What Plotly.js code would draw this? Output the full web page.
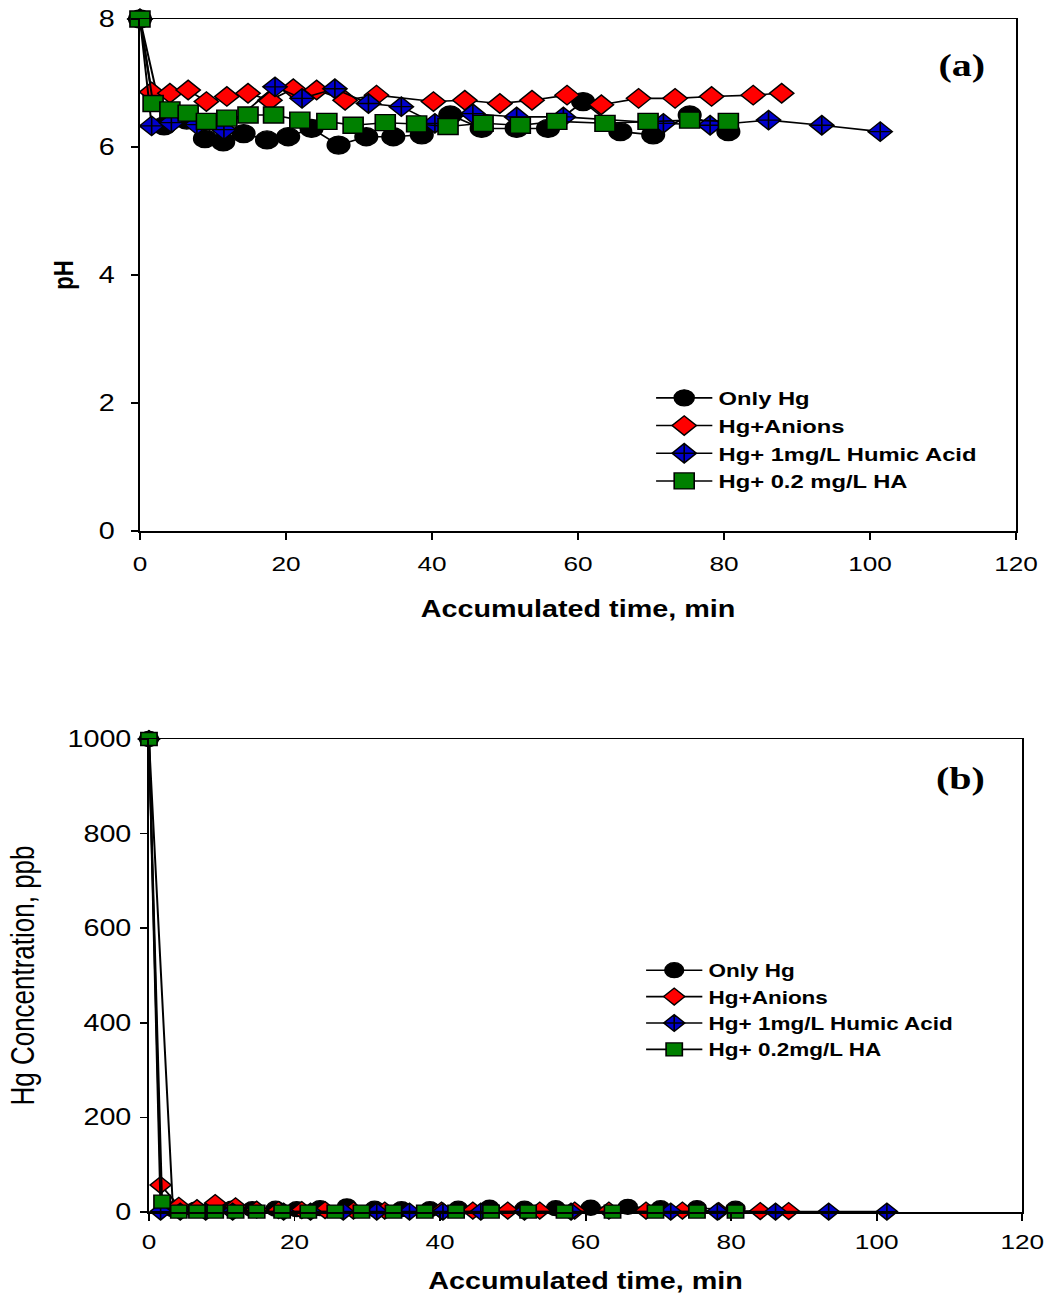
<!DOCTYPE html>
<html>
<head>
<meta charset="utf-8">
<script src="https://cdn.plot.ly/plotly-3.0.1.min.js"></script>
<style>
html,body{margin:0;padding:0;background:#fff;overflow:hidden;}
/* the figure is laid out narrow and widened horizontally */
#chart{width:845px;height:1300px;transform:scaleX(1.2497);transform-origin:0 0;}
</style>
</head>
<body>
<div id="chart"></div>
<script>
// Sampling times (min) of each run
const tOnlyHg  = [0, 3.3, 6.4, 8.9, 11.4, 14.2, 17.4, 20.3, 23.5, 27.2, 31.0, 34.7, 38.6, 42.5, 46.8, 51.6, 55.9, 60.7, 65.8, 70.3, 75.3, 80.6];
const tAnions  = [0, 1.6, 4.1, 6.6, 9.1, 11.9, 14.8, 17.8, 21.0, 24.2, 28.1, 32.4, 40.2, 44.5, 49.3, 53.7, 58.5, 63.2, 68.3, 73.3, 78.3, 84.0, 87.9];
const tHumic1  = [0, 1.6, 4.3, 7.8, 11.5, 18.5, 22.2, 26.7, 31.3, 35.8, 40.4, 45.6, 51.6, 58.0, 71.7, 78.1, 86.1, 93.4, 101.4];
const tHA02    = [0, 1.8, 4.1, 6.6, 9.1, 11.9, 14.8, 18.3, 21.9, 25.6, 29.2, 33.6, 37.9, 42.2, 47.0, 52.1, 57.1, 63.7, 69.6, 75.3, 80.6];

// (a) pH
const phOnlyHg = [8.0, 6.33, 6.42, 6.13, 6.08, 6.21, 6.11, 6.16, 6.29, 6.03, 6.16, 6.16, 6.19, 6.50, 6.29, 6.29, 6.29, 6.71, 6.24, 6.19, 6.50, 6.24];
const phAnions = [8.0, 6.86, 6.84, 6.89, 6.71, 6.79, 6.84, 6.73, 6.91, 6.89, 6.73, 6.81, 6.71, 6.73, 6.68, 6.73, 6.81, 6.66, 6.76, 6.76, 6.79, 6.81, 6.84];
const phHumic1 = [8.0, 6.33, 6.38, 6.35, 6.27, 6.94, 6.76, 6.91, 6.68, 6.63, 6.37, 6.52, 6.47, 6.47, 6.37, 6.34, 6.42, 6.34, 6.24];
const phHA02   = [8.0, 6.68, 6.58, 6.53, 6.40, 6.45, 6.50, 6.50, 6.42, 6.40, 6.34, 6.38, 6.36, 6.32, 6.37, 6.34, 6.40, 6.37, 6.40, 6.42, 6.40];

// (b) Hg concentration, ppb
const hgOnlyHg = [1000, 6, 5, 6, 7, 6, 7, 6, 8, 12, 7, 6, 6, 7, 9, 7, 8, 9, 11, 8, 8, 7];
const hgAnions = [1000, 57, 13, 8, 19, 12, 5, 4, 4, 4, 3, 3, 3, 3, 3, 3, 3, 3, 3, 3, 2, 2, 2];
const hgHumic1 = [1000, 1, 1, 1, 1, 1, 1, 1, 1, 1, 1, 1, 1, 1, 1, 1, 1, 1, 1];
const hgHA02   = [1000, 22, 1, 1, 1, 1, 1, 1, 1, 1, 1, 1, 1, 1, 1, 1, 1, 1, 1, 1, 1];

const namesA = ['Only Hg', 'Hg+Anions', 'Hg+ 1mg/L Humic Acid', 'Hg+ 0.2 mg/L HA'];
const namesB = ['Only Hg', 'Hg+Anions', 'Hg+ 1mg/L Humic Acid', 'Hg+ 0.2mg/L HA'];
const xTicks = [0, 20, 40, 60, 80, 100, 120];

const styles = [
  {symbol: 'circle',        color: '#000000', sizeA: 18, sizeB: 15},
  {symbol: 'diamond',       color: '#ff0000', sizeA: 15, sizeB: 13},
  {symbol: 'diamond-cross', color: '#0000cc', sizeA: 15, sizeB: 13},
  {symbol: 'square',        color: '#008000', sizeA: 16, sizeB: 13}
];

function series(x, y, i, name, xa, ya, size, legend) {
  const s = styles[i];
  return {
    type: 'scatter', mode: 'lines+markers', x: x, y: y, name: name,
    xaxis: xa, yaxis: ya, legend: legend,
    line: {color: '#000000', width: 1.6},
    marker: {symbol: s.symbol, size: size, color: s.color, line: {color: '#000000', width: 1.3}},
    cliponaxis: false
  };
}

const times = [tOnlyHg, tAnions, tHumic1, tHA02];
const phs = [phOnlyHg, phAnions, phHumic1, phHA02];
const hgs = [hgOnlyHg, hgAnions, hgHumic1, hgHA02];

const data = [];
for (let i = 0; i < 4; i++) data.push(series(times[i], phs[i], i, namesA[i], 'x', 'y', styles[i].sizeA, 'legend'));
for (let i = 0; i < 4; i++) data.push(series(times[i], hgs[i], i, namesB[i], 'x2', 'y2', styles[i].sizeB, 'legend2'));

const W = 845, H = 1300;
const FAM = 'Liberation Sans, Arial, sans-serif';
const xTickFont = {family: FAM, size: 21, color: '#000'};
const yTickFont = {family: FAM, size: 23, color: '#000'};
const boldTitle = {family: FAM, size: 23, color: '#000', weight: 'bold'};

function xAxis(domain, anchor, labelGap, titleGap) {
  return {
    domain: domain, anchor: anchor, range: [0, 120], tickvals: xTicks, ticktext: xTicks.map(String),
    showline: true, linecolor: '#000', linewidth: 1.5, mirror: true,
    ticks: 'outside', ticklen: 7, tickwidth: 1.5, tickcolor: '#000',
    ticklabelstandoff: labelGap, ticklabeloverflow: 'allow',
    showgrid: false, zeroline: false, tickfont: xTickFont,
    title: {text: 'Accumulated time, min', font: boldTitle, standoff: titleGap}
  };
}

const layout = {
  width: W, height: H,
  margin: {l: 0, r: 0, t: 0, b: 0},
  paper_bgcolor: '#fff', plot_bgcolor: '#fff',
  font: {family: FAM, color: '#000'},
  xaxis: xAxis([112 / W, 813 / W], 'y', 6, 27),
  yaxis: {
    domain: [1 - 531 / H, 1 - 19 / H], anchor: 'x', range: [0, 8], dtick: 2,
    showline: true, linecolor: '#000', linewidth: 1.5, mirror: true,
    ticks: 'outside', ticklen: 6, tickwidth: 1.5, tickcolor: '#000',
    ticklabelstandoff: 8,
    showgrid: false, zeroline: false, tickfont: yTickFont,
    title: {text: 'pH', font: {family: FAM, size: 22, color: '#000', weight: 'bold'}, standoff: 14}
  },
  xaxis2: xAxis([119.2 / W, 818 / W], 'y2', 3, 21),
  yaxis2: {
    domain: [1 - 1212 / H, 1 - 739 / H], anchor: 'x2', range: [0, 1000], dtick: 200,
    showline: true, linecolor: '#000', linewidth: 1.5, mirror: true,
    ticks: 'outside', ticklen: 6, tickwidth: 1.5, tickcolor: '#000',
    ticklabelstandoff: 2,
    showgrid: false, zeroline: false, tickfont: yTickFont,
    title: {text: 'Hg Concentration, ppb', font: {family: FAM, size: 26, color: '#000'}, standoff: 18}
  },
  legend: {
    x: 520 / W, xanchor: 'left', y: 1 - 379 / H, yanchor: 'top',
    bgcolor: 'rgba(0,0,0,0)', borderwidth: 0, itemwidth: 45,
    font: {family: FAM, size: 19, color: '#000', weight: 'bold'}
  },
  legend2: {
    x: 512 / W, xanchor: 'left', y: 1 - 952 / H, yanchor: 'top',
    bgcolor: 'rgba(0,0,0,0)', borderwidth: 0, itemwidth: 45,
    font: {family: FAM, size: 18, color: '#000', weight: 'bold'}
  },
  annotations: [
    {text: '(a)', xref: 'paper', yref: 'paper', x: 769.8 / W, y: 1 - 65 / H, xanchor: 'center', yanchor: 'middle', showarrow: false,
     font: {family: 'Liberation Serif, Times New Roman, serif', size: 32, color: '#000', weight: 'bold'}},
    {text: '(b)', xref: 'paper', yref: 'paper', x: 768 / W, y: 1 - 778 / H, xanchor: 'center', yanchor: 'middle', showarrow: false,
     font: {family: 'Liberation Serif, Times New Roman, serif', size: 32, color: '#000', weight: 'bold'}}
  ],
  showlegend: true
};

Plotly.newPlot('chart', data, layout, {displayModeBar: false, staticPlot: true});
</script>
</body>
</html>
